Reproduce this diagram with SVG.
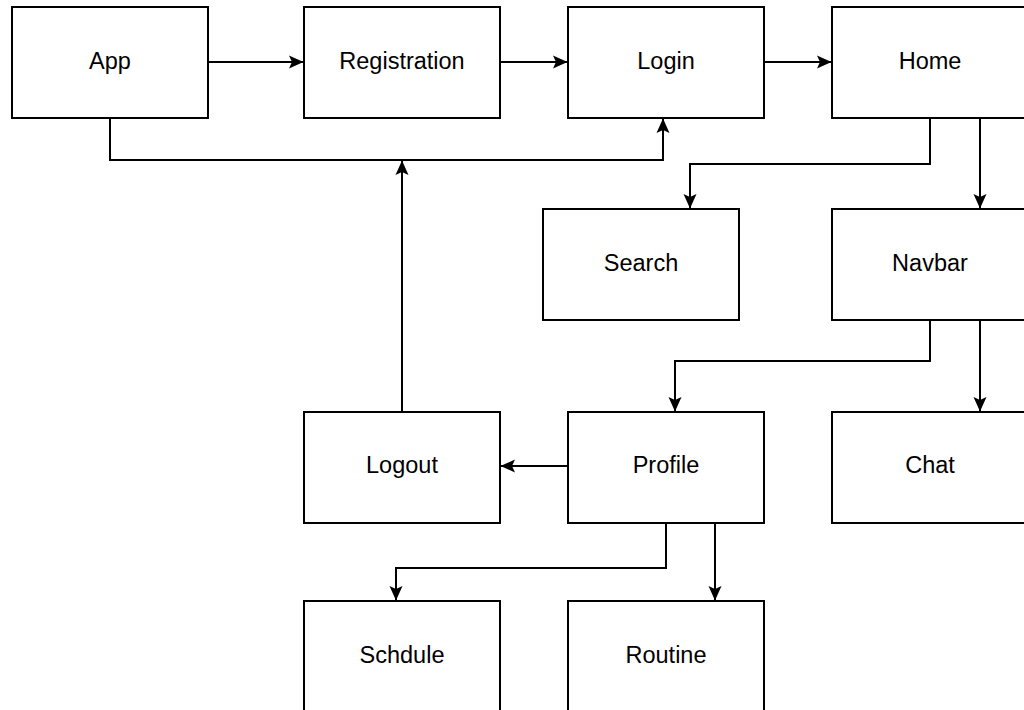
<svg xmlns="http://www.w3.org/2000/svg" width="1024" height="710" viewBox="0 0 1024 710">
<style>
.box{fill:#ffffff;stroke:#000000;stroke-width:2}
.lbl{font-family:"Liberation Sans",Arial,sans-serif;font-size:23.5px;fill:#000000;text-anchor:middle;dominant-baseline:central}
.edge{fill:none;stroke:#000000;stroke-width:2;marker-end:url(#arr)}
</style>
<defs>
<marker id="arr" markerUnits="userSpaceOnUse" markerWidth="16" markerHeight="16" viewBox="0 0 16 16" refX="15" refY="8" orient="auto">
<path d="M1,1.5 L15.5,8 L1,14.5 L4,8 Z" fill="#000000"/>
</marker>
</defs>
<rect width="1024" height="710" fill="#ffffff"/>
<g id="connectors">
<path class="edge" d="M208,62 H303"/>
<path class="edge" d="M500,62 H567"/>
<path class="edge" d="M764,62 H831"/>
<path class="edge" d="M110,118 V160 H663 V119"/>
<path class="edge" d="M402,412 V161"/>
<path class="edge" d="M930,118 V164 H690 V208"/>
<path class="edge" d="M980,118 V208"/>
<path class="edge" d="M930,320 V361 H675 V411"/>
<path class="edge" d="M980,320 V411"/>
<path class="edge" d="M568,466 H501"/>
<path class="edge" d="M666,523 V568 H396 V600"/>
<path class="edge" d="M715,523 V600"/>
</g>
<g id="app"><rect class="box" x="12" y="7" width="196" height="111"/><text class="lbl" x="110" y="61">App</text></g>
<g id="registration"><rect class="box" x="304" y="7" width="196" height="111"/><text class="lbl" x="402" y="61">Registration</text></g>
<g id="login"><rect class="box" x="568" y="7" width="196" height="111"/><text class="lbl" x="666" y="61">Login</text></g>
<g id="home"><rect class="box" x="832" y="7" width="196" height="111"/><text class="lbl" x="930" y="61">Home</text></g>
<g id="search"><rect class="box" x="543" y="209" width="196" height="111"/><text class="lbl" x="641" y="263">Search</text></g>
<g id="navbar"><rect class="box" x="832" y="209" width="196" height="111"/><text class="lbl" x="930" y="263">Navbar</text></g>
<g id="logout"><rect class="box" x="304" y="412" width="196" height="111"/><text class="lbl" x="402" y="465">Logout</text></g>
<g id="profile"><rect class="box" x="568" y="412" width="196" height="111"/><text class="lbl" x="666" y="465">Profile</text></g>
<g id="chat"><rect class="box" x="832" y="412" width="196" height="111"/><text class="lbl" x="930" y="465">Chat</text></g>
<g id="schdule"><rect class="box" x="304" y="601" width="196" height="111"/><text class="lbl" x="402" y="655">Schdule</text></g>
<g id="routine"><rect class="box" x="568" y="601" width="196" height="111"/><text class="lbl" x="666" y="655">Routine</text></g>
</svg>
